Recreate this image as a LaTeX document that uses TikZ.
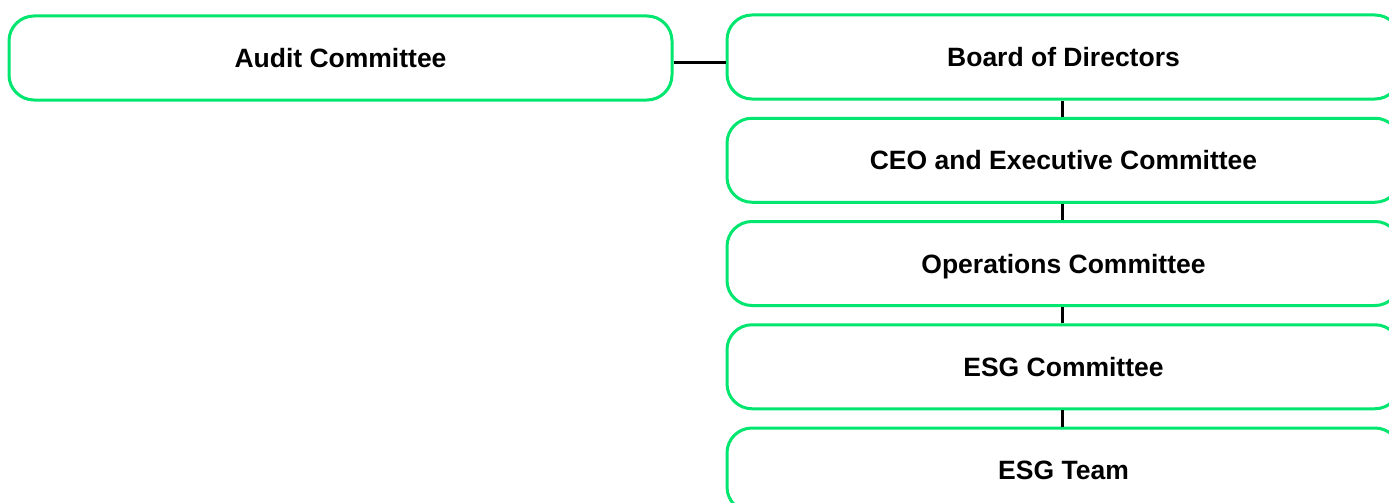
\documentclass[tikz,border=0pt]{standalone}
\usepackage{fontspec}
\setmainfont{Liberation Sans}
\definecolor{boxgreen}{RGB}{0,230,110}
\begin{document}
\begin{tikzpicture}[x=1pt,y=-1pt,
  orgbox/.style={draw=boxgreen, line width=3pt, rounded corners=25pt,
    minimum height=84pt, inner sep=0pt, fill=white,
    font=\fontsize{26.5}{30}\selectfont\bfseries,
    text height=19pt, text depth=0pt},
  link/.style={draw=black, line width=3pt}]
  \useasboundingbox (0,0) rectangle (1389,503);
  \clip (0,0) rectangle (1389,503);

  % left-hand committee
  \node[orgbox, minimum width=663pt] (audit) at (340.5,58) {Audit Committee};

  % main reporting chain
  \node[orgbox, minimum width=673pt] (board) at (1063.5,57)     {Board of Directors};
  \node[orgbox, minimum width=673pt] (ceo)   at (1063.5,160.25) {CEO and Executive Committee};
  \node[orgbox, minimum width=673pt] (ops)   at (1063.5,263.5)  {Operations Committee};
  \node[orgbox, minimum width=673pt] (esgc)  at (1063.5,366.75) {ESG Committee};
  \node[orgbox, minimum width=673pt] (team)  at (1063.5,470)    {ESG Team};

  % connectors
  \draw[link] ([yshift=-4.5pt]audit.east) -- ([yshift=-5.5pt]board.west);
  \draw[link] ([xshift=-1.5pt]board.south) -- ([xshift=-1.5pt]ceo.north);
  \draw[link] ([xshift=-1.5pt]ceo.south) -- ([xshift=-1.5pt]ops.north);
  \draw[link] ([xshift=-1.5pt]ops.south) -- ([xshift=-1.5pt]esgc.north);
  \draw[link] ([xshift=-1.5pt]esgc.south) -- ([xshift=-1.5pt]team.north);
\end{tikzpicture}
\end{document}
